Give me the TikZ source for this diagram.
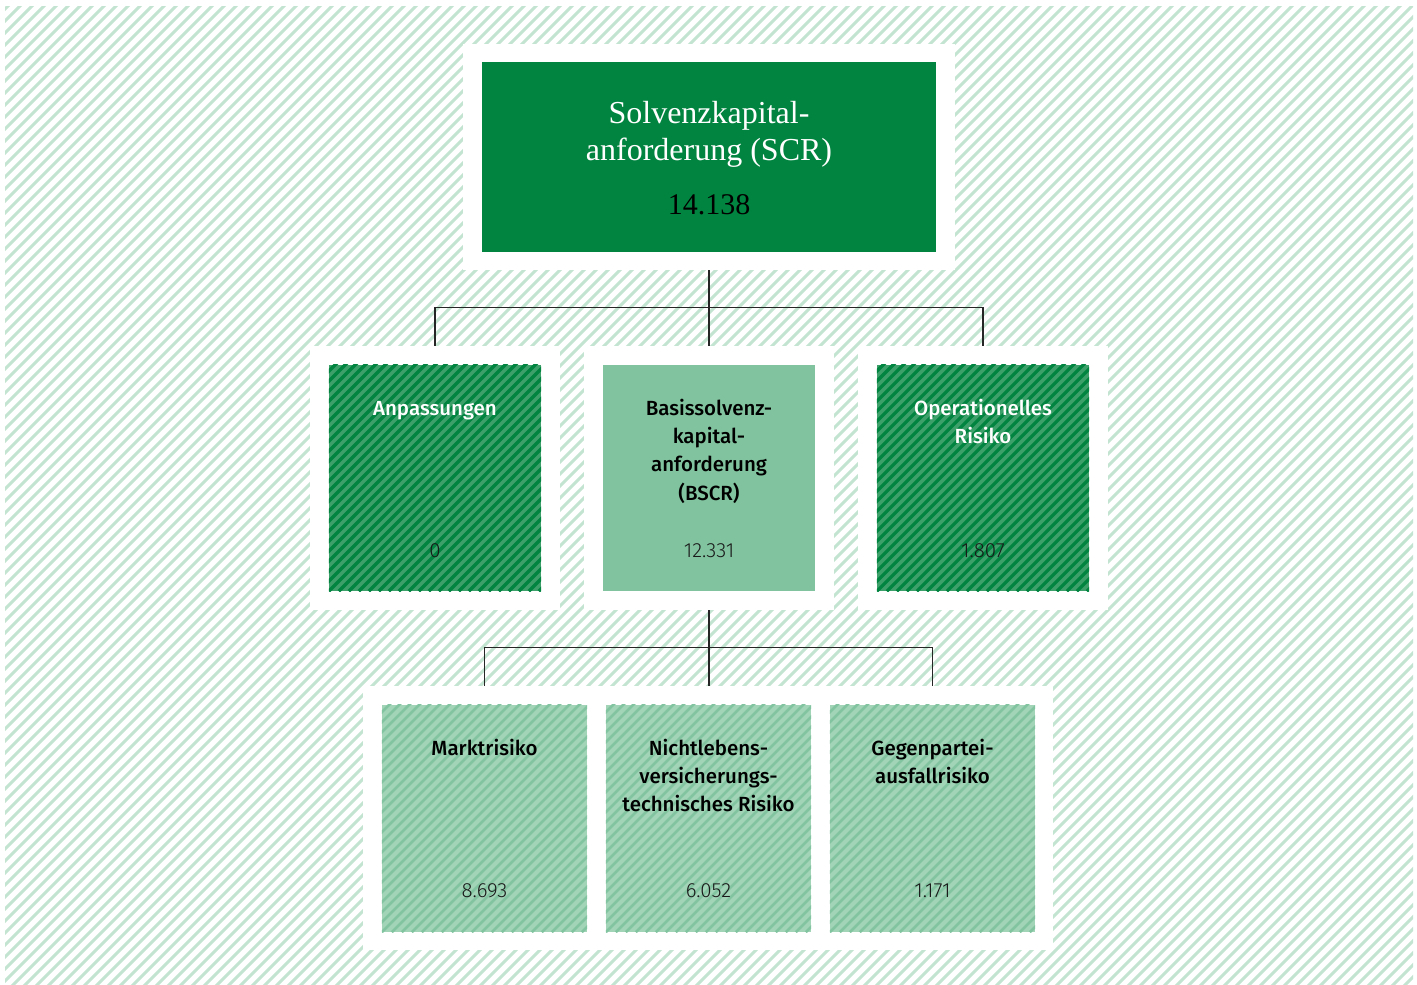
\documentclass[tikz,border=0pt]{standalone}
\usepackage{fontspec}
\setmainfont{Liberation Serif}
\newfontfamily\fira[BoldFont={Fira Sans Medium}]{Fira Sans}
\newfontfamily\firalight{Fira Sans Light}
\definecolor{dgreen}{HTML}{00843F}
\definecolor{mgreen}{HTML}{3D9F6A}
\definecolor{lgreen}{HTML}{81C39F}
\definecolor{pgreen}{HTML}{A2D4B8}
\definecolor{pstripe}{HTML}{83C4A0}
\definecolor{bgstripe}{HTML}{C2E4D1}
\tikzset{
  frame/.style={fill=white, draw=none, inner sep=0pt},
  bigbox/.style={fill=dgreen, draw=none, inner sep=0pt, minimum width=454pt, minimum height=190pt},
  midbox/.style={draw=none, inner sep=0pt, minimum width=212pt, minimum height=226pt},
  lowbox/.style={fill=pgreen, draw=none, inner sep=0pt, minimum width=205pt, minimum height=227pt},
  ttl/.style={font=\fira\bfseries\fontsize{20.5}{28.3}\selectfont, align=center, inner sep=0pt, anchor=north},
  num/.style={font=\firalight\fontsize{20.5}{24}\selectfont, inner sep=0pt, anchor=base, text=black!90},
  conn/.style={draw=black!85, line width=1.1pt},
}
\newcommand{\hatchbox}[3]{%
  \begin{scope}
    \clip (#1.south west) rectangle (#1.north east);
    \foreach \k in {0,10,...,480}
      \draw[#2, line width=#3] (#1.south west) ++(\k-240,0) -- ++(240,-240);
  \end{scope}}
\begin{document}
\begin{tikzpicture}[x=1pt,y=-1pt]
\useasboundingbox (0,0) rectangle (1417,985);
\fill[white] (0,0) rectangle (1417,985);
% background hatch
\begin{scope}
  \clip (5,6) rectangle (1413,985);
  \foreach \k in {-1000,-988,...,1420}
    \draw[bgstripe, line width=3pt] (\k,990) -- (\k+990,0);
\end{scope}

% frames
\node[frame, minimum width=492pt, minimum height=226pt] (topf) at (709,157) {};
\node[frame, minimum width=250pt, minimum height=264pt] (m1f) at (435,478) {};
\node[frame, minimum width=250pt, minimum height=264pt] (m2f) at (709,478) {};
\node[frame, minimum width=250pt, minimum height=264pt] (m3f) at (983,478) {};
\node[frame, minimum width=690pt, minimum height=264pt] (bf) at (708,818) {};

% connectors
\draw[conn] (topf.south) -- (m2f.north);
\draw[conn] (m1f.north) -- ++(0,-38) -| (m3f.north);

% top box
\node[bigbox] (top) at (709,157) {};
\node[font=\fontsize{32}{37}\selectfont, text=white, align=center, inner sep=0pt, anchor=base] (toptitle) at (709,160) {Solvenzkapital-\\anforderung (SCR)};
\node[font=\fontsize{30}{36}\selectfont, text=black, inner sep=0pt, anchor=base] (topnum) at (709,214) {14.138};

% middle boxes
\node[midbox, fill=mgreen] (m1) at (435,478) {};
\hatchbox{m1}{dgreen}{3.2pt}
\node[midbox, fill=lgreen] (m2) at (709,478) {};
\node[midbox, fill=mgreen] (m3) at (983,478) {};
\hatchbox{m3}{dgreen}{3.2pt}

\node[ttl, text=white] (m1t) at ([yshift=-36pt]m1.north) {Anpassungen};
\node[ttl, text=black] (m2t) at ([yshift=-34pt]m2.north) {Basissolvenz-\\kapital-\\anforderung\\(BSCR)};
\node[ttl, text=white] (m3t) at ([yshift=-34pt]m3.north) {Operationelles\\Risiko};
\node[num] (m1n) at ([yshift=34pt]m1.south) {0};
\node[num] (m2n) at ([yshift=34pt]m2.south) {12.331};
\node[num] (m3n) at ([yshift=34pt]m3.south) {1.807};

% lower connectors
\draw[conn] (m2f.south) -- (m2f.south |- bf.north);

% bottom boxes
\node[lowbox] (b1) at (484.5,818.5) {};
\hatchbox{b1}{pstripe}{2.6pt}
\node[lowbox] (b2) at (708.5,818.5) {};
\hatchbox{b2}{pstripe}{2.6pt}
\node[lowbox] (b3) at (932.5,818.5) {};
\hatchbox{b3}{pstripe}{2.6pt}

\draw[conn] (b1.north |- bf.north) -- ++(0,-38) -| (b3.north |- bf.north);

\node[ttl, text=black] (b1t) at ([yshift=-34pt]b1.north) {Marktrisiko};
\node[ttl, text=black] (b2t) at ([yshift=-34pt]b2.north) {Nichtlebens-\\versicherungs-\\technisches Risiko};
\node[ttl, text=black] (b3t) at ([yshift=-34pt]b3.north) {Gegenpartei-\\ausfallrisiko};
\node[num] (b1n) at ([yshift=35pt]b1.south) {8.693};
\node[num] (b2n) at ([yshift=35pt]b2.south) {6.052};
\node[num] (b3n) at ([yshift=35pt]b3.south) {1.171};
\end{tikzpicture}
\end{document}
